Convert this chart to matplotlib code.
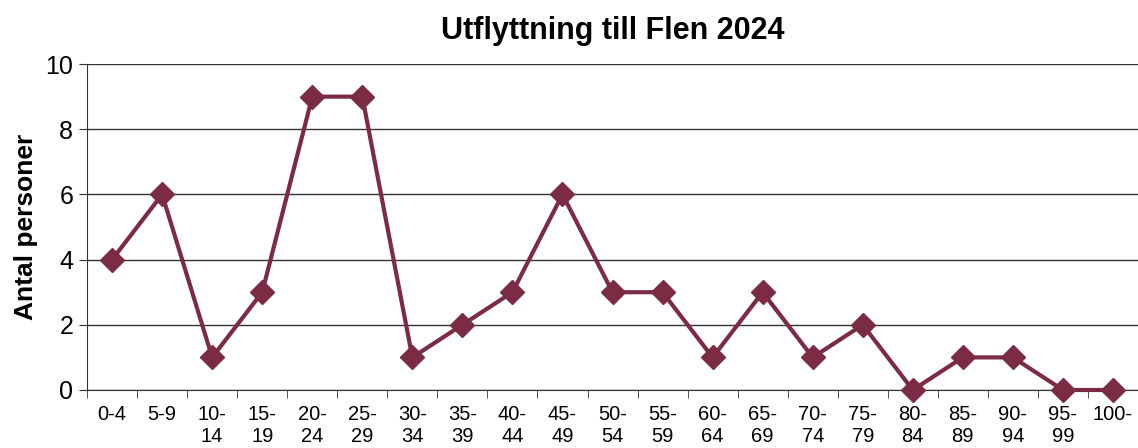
import matplotlib.pyplot as plt
import numpy as np

plt.rcParams['font.family'] = ['Liberation Sans', 'DejaVu Sans']

age_groups = ["0-4", "5-9", "10-\n14", "15-\n19", "20-\n24", "25-\n29", "30-\n34",
              "35-\n39", "40-\n44", "45-\n49", "50-\n54", "55-\n59", "60-\n64",
              "65-\n69", "70-\n74", "75-\n79", "80-\n84", "85-\n89", "90-\n94",
              "95-\n99", "100-"]
persons = [4, 6, 1, 3, 9, 9, 1, 2, 3, 6, 3, 3, 1, 3, 1, 2, 0, 1, 1, 0, 0]
y_ticks = [0, 2, 4, 6, 8, 10]

fig = plt.figure(figsize=(11.38, 4.48), dpi=100)
ax = fig.add_axes([0.0765, 0.1295, 0.9235, 0.7275])

x = np.arange(len(age_groups))
ax.plot(x, persons, color='#7b2c42', linewidth=3, marker='D', markersize=12,
        zorder=3, clip_on=False)

ax.set_xlim(-0.5, len(age_groups) - 0.5)
ax.set_ylim(0, 10)
ax.set_yticks(y_ticks)
ax.set_yticklabels([str(v) for v in y_ticks], fontsize=18)
ax.yaxis.grid(True, color='#333333', linewidth=1)
ax.set_axisbelow(True)

ax.set_xticks(x)
ax.set_xticklabels(age_groups, fontsize=14.5, linespacing=1.15)
ax.set_xticks(np.arange(-0.5, len(age_groups), 1), minor=True)
ax.tick_params(axis='x', which='major', length=0, pad=11)
ax.tick_params(axis='x', which='minor', length=6, direction='out', color='#333333')
ax.tick_params(axis='y', length=6, direction='out', color='#333333', pad=4)

for side in ['top', 'right']:
    ax.spines[side].set_visible(False)
ax.spines['left'].set_color('#333333')
ax.spines['bottom'].set_color('#333333')

ax.set_ylabel('Antal personer', fontsize=19, fontweight='bold', labelpad=5)
ax.set_title('Utflyttning till Flen 2024', fontsize=22, fontweight='bold', pad=18)

fig.savefig('out.png', dpi=100)
